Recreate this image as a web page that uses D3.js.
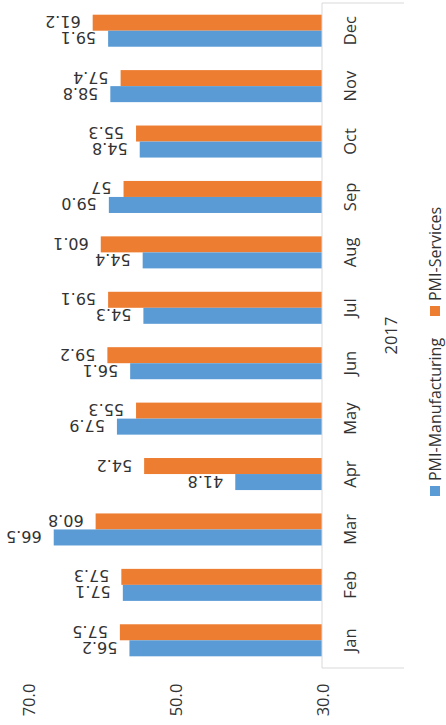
<!DOCTYPE html>
<html>
<head>
<meta charset="utf-8">
<script src="https://cdn.jsdelivr.net/npm/d3@7"></script>
<style>
  html, body { margin: 0; padding: 0; background: #fff; }
  svg { display: block; }
</style>
</head>
<body>
<script>
const months = ["Jan","Feb","Mar","Apr","May","Jun","Jul","Aug","Sep","Oct","Nov","Dec"];
const manufacturing = [56.2, 57.1, 66.5, 41.8, 57.9, 56.1, 54.3, 54.4, 59.0, 54.8, 58.8, 59.1];
const services = [57.5, 57.3, 60.8, 54.2, 55.3, 59.2, 59.1, 60.1, 57, 55.3, 57.4, 61.2];
const valueTicks = [30, 50, 70];
const yearLabel = "2017";
const seriesNames = ["PMI-Services", "PMI-Manufacturing"];
const seriesColors = ["#ED7D31", "#5B9BD5"];

const W = 446, H = 725;
const svg = d3.select("body").append("svg").attr("width", W).attr("height", H);
svg.append("rect").attr("width", W).attr("height", H).attr("fill", "#fff");

// value scale runs right-to-left (chart is rotated)
const x = d3.scaleLinear().domain([30, 70]).range([322, 28]);
const y = d3.scaleBand().domain(months.slice().reverse()).range([3, 668]);
const sub = d3.scaleBand().domain(seriesNames).range([0, y.bandwidth()]).paddingOuter(0.73);

const data = [];
months.forEach((m, i) => {
  data.push({ m, s: seriesNames[0], v: services[i], label: String(services[i]), c: seriesColors[0] });
  data.push({ m, s: seriesNames[1], v: manufacturing[i], label: manufacturing[i].toFixed(1), c: seriesColors[1] });
});

// bars
svg.append("g").selectAll("rect").data(data).join("rect")
  .attr("x", d => x(d.v))
  .attr("y", d => y(d.m) + sub(d.s))
  .attr("width", d => x(30) - x(d.v))
  .attr("height", sub.bandwidth())
  .attr("fill", d => d.c);

// value labels (upside down)
svg.append("g").selectAll("text").data(data).join("text")
  .attr("x", d => x(d.v) - 12)
  .attr("y", d => y(d.m) + sub(d.s) + 1.5)
  .attr("transform", d => `rotate(180, ${x(d.v) - 12}, ${y(d.m) + sub(d.s) + 1.5})`)
  .attr("font-family", "DejaVu Sans")
  .attr("font-size", 16)
  .attr("fill", "#333")
  .text(d => d.label);

// category axis lines
const axisColor = "#d9d9d9";
svg.append("line").attr("x1", x(30)).attr("x2", x(30)).attr("y1", y.range()[0]).attr("y2", y.range()[1])
  .attr("stroke", axisColor).attr("stroke-width", 1);
[y.range()[0], y.range()[1]].forEach(yy => {
  svg.append("line").attr("x1", x(30)).attr("x2", 404).attr("y1", yy).attr("y2", yy)
    .attr("stroke", axisColor).attr("stroke-width", 1);
});

// month labels
svg.append("g").selectAll("text").data(months).join("text")
  .attr("transform", d => `translate(349, ${y(d) + y.bandwidth() / 2}) rotate(-90)`)
  .attr("text-anchor", "middle")
  .attr("dominant-baseline", "central")
  .attr("font-family", "Open Sans")
  .attr("font-size", 16.5)
  .attr("fill", "#333")
  .text(d => d);

// year label
svg.append("text")
  .attr("transform", `translate(390, ${(y.range()[0] + y.range()[1]) / 2}) rotate(-90)`)
  .attr("text-anchor", "middle")
  .attr("dominant-baseline", "central")
  .attr("font-family", "Open Sans")
  .attr("font-size", 16.5)
  .attr("fill", "#333")
  .text(yearLabel);

// value axis tick labels
svg.append("g").selectAll("text").data(valueTicks).join("text")
  .attr("transform", d => `translate(${x(d)}, 700) rotate(-90)`)
  .attr("text-anchor", "middle")
  .attr("dominant-baseline", "central")
  .attr("font-family", "Open Sans")
  .attr("font-size", 16.5)
  .attr("fill", "#333")
  .text(d => d.toFixed(1));

// legend
const legendItems = [
  { name: seriesNames[1], color: seriesColors[1], cy: 491 },
  { name: seriesNames[0], color: seriesColors[0], cy: 311 }
];
const lg = svg.append("g");
legendItems.forEach(it => {
  lg.append("rect").attr("x", 430).attr("y", it.cy - 5).attr("width", 10).attr("height", 10).attr("fill", it.color);
  lg.append("text")
    .attr("transform", `translate(435, ${it.cy - 10}) rotate(-90)`)
    .attr("text-anchor", "start")
    .attr("dominant-baseline", "central")
    .attr("font-family", "Open Sans")
    .attr("font-size", 16)
    .attr("fill", "#333")
    .text(it.name);
});
</script>
</body>
</html>
